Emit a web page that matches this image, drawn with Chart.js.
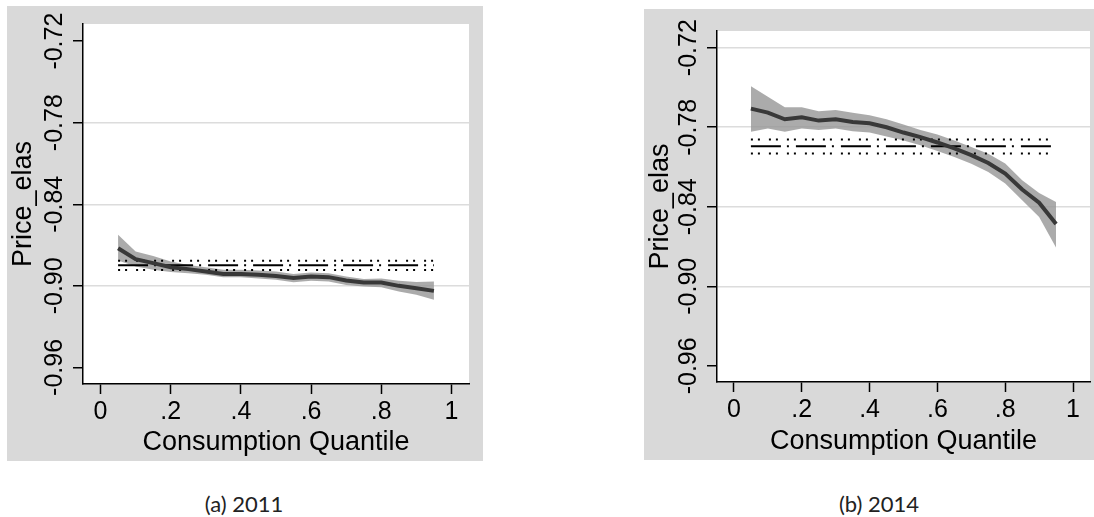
<!DOCTYPE html>
<html>
<head>
<meta charset="utf-8">
<script src="https://cdn.jsdelivr.net/npm/chart.js@4.4.1/dist/chart.umd.min.js"></script>
<style>
  body { margin: 0; background: #fff; width: 1094px; height: 517px; position: relative; overflow: hidden; }
  .panel { position: absolute; background: #d9d9d9; }
  .caption { position: absolute; top: 490px; font-family: Lato, sans-serif; font-size: 22px; color: #222; transform: translateX(-50%); white-space: nowrap; }
</style>
</head>
<body>
<canvas id="chart2011" class="panel" width="476" height="455" style="left:7px;top:6px"></canvas>
<canvas id="chart2014" class="panel" width="450" height="451" style="left:644px;top:9px"></canvas>
<div class="caption" style="left:244px">(a) 2011</div>
<div class="caption" style="left:879px">(b) 2014</div>

<script>
// Datos

const quantiles = [0.05, 0.10, 0.15, 0.20, 0.25, 0.30, 0.35, 0.40, 0.45, 0.50,
  0.55, 0.60, 0.65, 0.70, 0.75, 0.80, 0.85, 0.90, 0.95];

const elas2011 = [-0.8723, -0.8804, -0.8833, -0.8863, -0.8877, -0.8895, -0.8912, -0.8912, -0.8919, -0.8927,
  -0.8943, -0.8932, -0.8936, -0.8961, -0.8976, -0.8976, -0.9000, -0.9017, -0.9037];
const upper2011 = [-0.8625, -0.8748, -0.8780, -0.8821, -0.8846, -0.8863, -0.8882, -0.8882, -0.8888, -0.8895,
  -0.8912, -0.8902, -0.8907, -0.8932, -0.8949, -0.8946, -0.8963, -0.8971, -0.8968];
const lower2011 = [-0.8814, -0.8858, -0.8882, -0.8899, -0.8907, -0.8919, -0.8936, -0.8936, -0.8946, -0.8956,
  -0.8973, -0.8963, -0.8968, -0.8993, -0.9005, -0.9010, -0.9042, -0.9066, -0.9103];
const ref2011 = [-0.8815, -0.8848, -0.8883]; // banda superior, estimación, banda inferior

const elas2014 = [-0.766, -0.769, -0.774, -0.7725, -0.775, -0.774, -0.776, -0.777, -0.780, -0.784,
  -0.7875, -0.7915, -0.796, -0.801, -0.807, -0.815, -0.827, -0.837, -0.853];
const upper2014 = [-0.749, -0.757, -0.765, -0.765, -0.768, -0.767, -0.769, -0.771, -0.774, -0.778,
  -0.782, -0.7855, -0.790, -0.795, -0.800, -0.8074, -0.820, -0.8296, -0.8364];
const lower2014 = [-0.7835, -0.781, -0.7835, -0.781, -0.782, -0.781, -0.783, -0.784, -0.787, -0.790,
  -0.7935, -0.798, -0.8025, -0.8075, -0.8137, -0.8225, -0.835, -0.8477, -0.8708];
const ref2014 = [-0.7893, -0.7943, -0.7998];

const refStart = 0.05;
const refEnd = 0.95;

const xTicks = [0, 0.2, 0.4, 0.6, 0.8, 1];
const xTickLabels = ["0", ".2", ".4", ".6", ".8", "1"];
const yTicks = [-0.96, -0.90, -0.84, -0.78, -0.72];

const FONT = "'Liberation Sans', Arial, sans-serif";

let pts = (ys) => ys.map((y, i) => ({ x: quantiles[i], y: y }));

// Fondo blanco solo en el área del gráfico

const plotBg = {
  id: "plotBg",
  beforeDraw(chart) {
    const { ctx, chartArea: a } = chart;
    ctx.save();
    ctx.fillStyle = "#fff";
    ctx.fillRect(a.left, a.top, a.right - a.left, a.bottom - a.top);
    ctx.restore();
  },
};

let paintPanel = (id, est, upper, lower, ref, gridded, box) => {
  const refLine = (y, dash, order) => ({
    data: [{ x: refStart, y: y }, { x: refEnd, y: y }],
    borderColor: "#000",
    borderWidth: 2,
    borderDash: dash,
    pointRadius: 0,
    fill: false,
    order: order,
  });

  new Chart(document.getElementById(id), {
    type: "line",
    data: {
      datasets: [
        { data: pts(est), borderColor: "#383838", borderWidth: 4, pointRadius: 0, fill: false, order: 0 },
        refLine(ref[1], [30, 6, 2, 7], 1),
        refLine(ref[0], [2, 5, 2, 9], 1),
        refLine(ref[2], [2, 5, 2, 9], 1),
        { data: pts(upper), borderColor: "transparent", borderWidth: 0, pointRadius: 0, fill: false, order: 3 },
        { data: pts(lower), borderColor: "transparent", borderWidth: 0, pointRadius: 0,
          fill: 4, backgroundColor: "rgba(150,150,150,0.8)", order: 2 },
      ],
    },
    options: {
      responsive: false,
      animation: false,
      devicePixelRatio: 1,
      layout: { padding: { left: 0, top: box.top, right: box.right, bottom: 0 } },
      plugins: { legend: { display: false }, tooltip: { enabled: false } },
      elements: { line: { tension: 0 } },
      scales: {
        x: {
          type: "linear",
          min: -0.05,
          max: 1.05,
          afterBuildTicks: (s) => { s.ticks = xTicks.map((v) => ({ value: v })); },
          afterFit: (s) => { s.height = box.xHeight; },
          grid: { color: "transparent", tickColor: "#000", tickLength: 10, tickWidth: 1.5 },
          border: { color: "#000", width: 1.5 },
          ticks: {
            autoSkip: false, maxRotation: 0, padding: 3, color: "#000",
            font: { family: FONT, size: 25 },
            callback: (v, i) => xTickLabels[i],
          },
          title: {
            display: true, text: "Consumption Quantile", color: "#000",
            font: { family: FONT, size: 27 }, padding: { top: 0, bottom: 2 },
          },
        },
        y: {
          type: "linear",
          min: -0.9722,
          max: -0.7074,
          afterBuildTicks: (s) => { s.ticks = yTicks.map((v) => ({ value: v })); },
          afterFit: (s) => { s.width = box.yWidth; },
          grid: {
            color: (c) => (c.tick && gridded.includes(c.tick.value) ? "#dcdcdc" : "transparent"),
            lineWidth: 1.5, tickColor: "#000", tickLength: 10, tickWidth: 1.5,
          },
          border: { color: "#000", width: 1.5 },
          ticks: {
            autoSkip: false, minRotation: 90, maxRotation: 90, crossAlign: "center", padding: -11,
            color: "#000", font: { family: FONT, size: 25 },
            callback: (v) => v.toFixed(2),
          },
          title: {
            display: true, text: "Price_elas", color: "#000",
            font: { family: FONT, size: 27 }, padding: { top: 0, bottom: 0 },
          },
        },
      },
    },
    plugins: [plotBg],
  });
};

paintPanel("chart2011", elas2011, upper2011, lower2011, ref2011, [-0.90, -0.84, -0.78],
  { top: 18, right: 14, yWidth: 76, xHeight: 77 });
paintPanel("chart2014", elas2014, upper2014, lower2014, ref2014, [-0.90, -0.84, -0.78, -0.72],
  { top: 22, right: 4, yWidth: 73, xHeight: 78 });
</script>
</body>
</html>
